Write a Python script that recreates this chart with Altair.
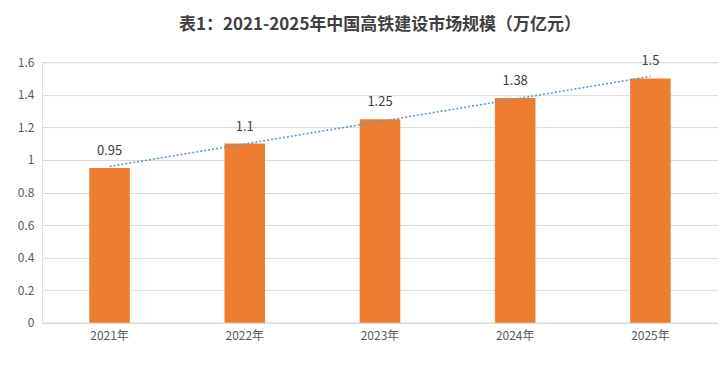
import altair as alt
import pandas as pd

years = [2021, 2022, 2023, 2024, 2025]
values = [0.95, 1.1, 1.25, 1.38, 1.5]
title_text = "表1：2021-2025年中国高铁建设市场规模（万亿元）"

df = pd.DataFrame({"year": years, "value": values})

font = "Noto Sans CJK SC"

x_enc = alt.X(
    "year:O",
    title=None,
    axis=alt.Axis(
        labelExpr="datum.label + '年'",
        labelAngle=0,
        labelFont=font,
        labelFontSize=12,
        labelColor="#595959",
        labelPadding=8,
        ticks=False,
        domain=True,
        domainColor="#D9D9D9",
    ),
    scale=alt.Scale(paddingInner=0.7, paddingOuter=0.35),
)
y_enc = alt.Y(
    "value:Q",
    title=None,
    scale=alt.Scale(domain=[0, 1.6], nice=False),
    axis=alt.Axis(
        tickCount=8,
        labelOverlap=False,
        labelExpr="datum.value == 0 ? '0' : format(datum.value, '.1~f')",
        labelFont=font,
        labelFontSize=12,
        labelColor="#595959",
        labelPadding=8,
        ticks=False,
        domain=False,
        gridColor="#D9D9D9",
    ),
)

bars = alt.Chart(df).mark_bar(color="#ED7D31").encode(x=x_enc, y=y_enc)

labels = alt.Chart(df).mark_text(
    dy=-10, baseline="bottom", font=font, fontSize=13, color="#404040"
).encode(x=x_enc, y=y_enc, text=alt.Text("value:Q", format="~g"))

trend = (
    alt.Chart(df)
    .transform_regression("year", "value", method="linear")
    .mark_line(color="#5B9BD5", strokeDash=[2, 2], strokeWidth=1.6)
    .encode(x=x_enc, y=y_enc)
)

chart = (
    alt.layer(bars, trend, labels)
    .properties(
        width=677,
        height=261,
        autosize=alt.AutoSizeParams(type="none"),
        padding={"left": 34, "top": 54, "right": 0, "bottom": 40},
        title=alt.TitleParams(
            title_text,
            font=font,
            fontSize=17,
            fontWeight="bold",
            color="#404040",
            anchor="middle",
            offset=22,
        ),
    )
    .configure_view(stroke=None)
    .configure(background="white")
)

chart.save("out.html", embed_options={"renderer": "svg", "actions": False})
